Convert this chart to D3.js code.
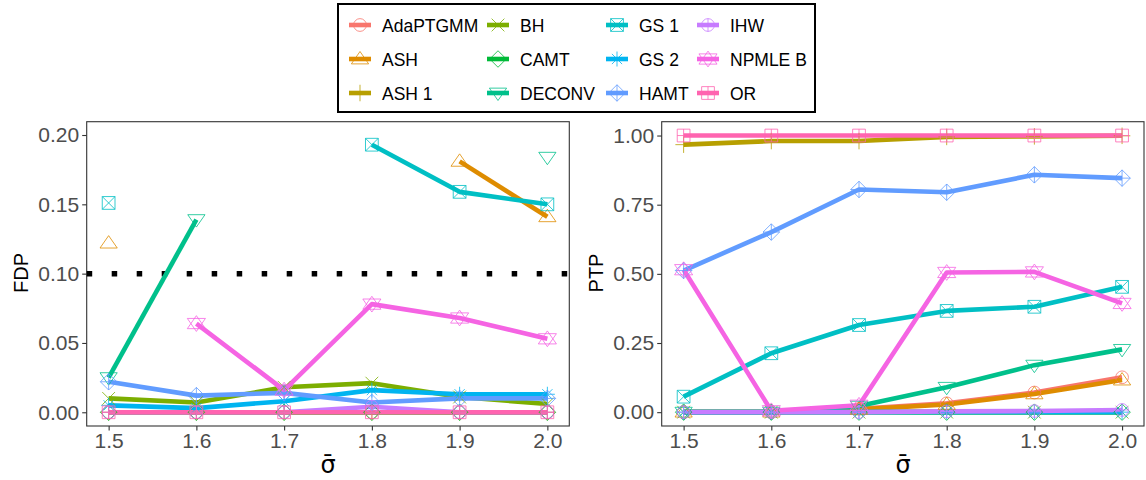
<!doctype html>
<html>
<head>
<style>
  body { margin: 0; background: #fff; }
  text { font-family: "Liberation Sans", Arial, sans-serif; }
</style>
<script src="https://d3js.org/d3.v7.min.js"></script>
</head>
<body>
<svg width="1146" height="480"></svg>
<script>
var N = null;
var methods = ["AdaPTGMM", "ASH", "ASH 1", "BH", "CAMT", "DECONV", "GS 1", "GS 2", "HAMT", "IHW", "NPMLE B", "OR"];
var sigmaBar = [1.5, 1.6, 1.7, 1.8, 1.9, 2.0];
var fdpTicks = [0, 0.05, 0.10, 0.15, 0.20];
var ptpTicks = [0, 0.25, 0.50, 0.75, 1.00];
var fdpTarget = 0.1;

// FDP per method (null = no discoveries)
var fdpAdaPTGMM = [0, 0, 0, 0, 0, 0];
var fdpASH      = [0.122, N, N, N, 0.181, 0.141];
var fdpASH1     = [0, 0, 0, 0, 0, 0];
var fdpBH       = [0.010, 0.007, 0.018, 0.021, 0.011, 0.006];
var fdpCAMT     = [0, 0, 0, 0, 0, 0];
var fdpDECONV   = [0.025, 0.139, N, N, N, 0.184];
var fdpGS1      = [0.151, N, N, 0.193, 0.159, 0.150];
var fdpGS2      = [0.005, 0.003, 0.008, 0.016, 0.013, 0.013];
var fdpHAMT     = [0.022, 0.012, 0.014, 0.007, 0.010, 0.010];
var fdpIHW      = [0, 0, 0, 0.004, 0, 0];
var fdpNPMLEB   = [N, 0.064, 0.016, 0.078, 0.068, 0.053];
var fdpOR       = [0, 0, 0, 0, 0, 0];

// PTP per method
var ptpAdaPTGMM = [0, 0, 0.012, 0.032, 0.071, 0.126];
var ptpASH      = [0, 0, 0.010, 0.028, 0.066, 0.116];
var ptpASH1     = [0.967, 0.980, 0.980, 0.995, 0.997, 0.999];
var ptpBH       = [0, 0, 0, 0, 0, 0];
var ptpCAMT     = [0, 0, 0, 0, 0, 0];
var ptpDECONV   = [0, 0, 0.022, 0.090, 0.170, 0.227];
var ptpGS1      = [0.056, 0.213, 0.315, 0.366, 0.381, 0.453];
var ptpGS2      = [0, 0, 0, 0, 0, 0];
var ptpHAMT     = [0.512, 0.651, 0.805, 0.795, 0.858, 0.846];
var ptpIHW      = [0, 0, 0, 0.003, 0.004, 0.008];
var ptpNPMLEB   = [0.515, 0.005, 0.025, 0.505, 0.507, 0.393];
var ptpOR       = [1, 1, 1, 1, 1, 1];

var palette = ["#F8766D", "#DE8C00", "#B79F00", "#7CAE00", "#00BA38", "#00C08B",
               "#00BFC4", "#00B4F0", "#619CFF", "#C77CFF", "#F564E3", "#FF64B0"];

var fdpSeries = [fdpAdaPTGMM, fdpASH, fdpASH1, fdpBH, fdpCAMT, fdpDECONV, fdpGS1, fdpGS2, fdpHAMT, fdpIHW, fdpNPMLEB, fdpOR];
var ptpSeries = [ptpAdaPTGMM, ptpASH, ptpASH1, ptpBH, ptpCAMT, ptpDECONV, ptpGS1, ptpGS2, ptpHAMT, ptpIHW, ptpNPMLEB, ptpOR];

var svg = d3.select("svg");

// open ggplot-like shapes 1..12
function shapePath(k, r) {
  var p = d3.path();
  function circ(rr) { p.moveTo(rr, 0); p.arc(0, 0, rr, 0, 2 * Math.PI); }
  function seg(x1, y1, x2, y2) { p.moveTo(x1, y1); p.lineTo(x2, y2); }
  function tri(up, rr) {
    var w = rr * 1.15, s = up ? 1 : -1;
    p.moveTo(0, -s * rr); p.lineTo(w, s * rr * 0.65); p.lineTo(-w, s * rr * 0.65); p.closePath();
  }
  function sq(rr) { p.rect(-rr, -rr, 2 * rr, 2 * rr); }
  function dia(rr) { p.moveTo(0, -rr); p.lineTo(rr, 0); p.lineTo(0, rr); p.lineTo(-rr, 0); p.closePath(); }
  var q = r * 0.85;
  switch (k) {
    case 0: circ(q); break;
    case 1: tri(true, r); break;
    case 2: seg(-r * 1.1, 0, r * 1.1, 0); seg(0, -r * 1.1, 0, r * 1.1); break;
    case 3: seg(-q, -q, q, q); seg(-q, q, q, -q); break;
    case 4: dia(r * 1.1); break;
    case 5: tri(false, r); break;
    case 6: sq(q); seg(-q, -q, q, q); seg(-q, q, q, -q); break;
    case 7: seg(-r, 0, r, 0); seg(0, -r, 0, r); seg(-q * 0.8, -q * 0.8, q * 0.8, q * 0.8); seg(-q * 0.8, q * 0.8, q * 0.8, -q * 0.8); break;
    case 8: dia(r * 1.1); seg(-r * 1.1, 0, r * 1.1, 0); seg(0, -r * 1.1, 0, r * 1.1); break;
    case 9: circ(q); seg(-q, 0, q, 0); seg(0, -q, 0, q); break;
    case 10: tri(true, r * 1.05); tri(false, r * 1.05); break;
    case 11: sq(q); seg(-q, 0, q, 0); seg(0, -q, 0, q); break;
  }
  return p.toString();
}

function panel(x0, x1, domainY, ticks) {
  var top = 121.7, bottom = 426;
  var x = d3.scaleLinear().domain([1.475, 2.025]).range([x0, x1]);
  var y = d3.scaleLinear().domain(domainY).range([bottom, top]);
  var g = svg.append("g");

  var yAxis = g.append("g").attr("transform", "translate(" + x0 + ",0)")
    .call(d3.axisLeft(y).tickValues(ticks).tickFormat(d3.format(".2f")).tickSizeOuter(0).tickSize(4.5).tickPadding(3));
  var xAxis = g.append("g").attr("transform", "translate(0," + bottom + ")")
    .call(d3.axisBottom(x).tickValues(sigmaBar).tickFormat(d3.format(".1f")).tickSizeOuter(0).tickSize(4.5).tickPadding(3));
  [yAxis, xAxis].forEach(function (a) {
    a.select(".domain").remove();
    a.selectAll("line").attr("stroke", "#333").attr("stroke-width", 1.1);
    a.selectAll("text").attr("fill", "#4D4D4D").style("font-size", "21px");
  });

  g.append("rect").attr("x", x0).attr("y", top).attr("width", x1 - x0).attr("height", bottom - top)
    .attr("fill", "none").attr("stroke", "#333").attr("stroke-width", 1.1);

  return { g: g.append("g"), x: x, y: y };
}

function drawSeries(p, series) {
  var line = d3.line()
    .defined(function (d) { return d != null; })
    .x(function (d, i) { return p.x(sigmaBar[i]); })
    .y(function (d) { return p.y(d); });
  series.forEach(function (vals, k) {
    p.g.append("path").attr("d", line(vals)).attr("fill", "none")
      .attr("stroke", palette[k]).attr("stroke-width", 4.6).attr("stroke-linejoin", "round");
  });
  series.forEach(function (vals, k) {
    vals.forEach(function (v, i) {
      if (v == null) return;
      p.g.append("path").attr("d", shapePath(k, 7.5))
        .attr("transform", "translate(" + p.x(sigmaBar[i]) + "," + p.y(v) + ")")
        .attr("fill", "none").attr("stroke", palette[k]).attr("stroke-width", 1).attr("opacity", 0.8);
    });
  });
}

var left = panel(86.7, 569.3, [-0.0099, 0.2096], fdpTicks);
left.g.append("line").attr("x1", 86.7).attr("x2", 569.3)
  .attr("y1", left.y(fdpTarget)).attr("y2", left.y(fdpTarget))
  .attr("stroke", "#000").attr("stroke-width", 5.5).attr("stroke-dasharray", "5.5,19.5");
drawSeries(left, fdpSeries);

var right = panel(661.7, 1144, [-0.05, 1.05], ptpTicks);
drawSeries(right, ptpSeries);

// axis titles
svg.append("text").attr("transform", "translate(28,273) rotate(-90)").attr("text-anchor", "middle")
  .style("font-size", "20px").text("FDP");
svg.append("text").attr("transform", "translate(603,273) rotate(-90)").attr("text-anchor", "middle")
  .style("font-size", "20px").text("PTP");
[328, 903].forEach(function (cx) {
  svg.append("text").attr("x", cx).attr("y", 473).attr("text-anchor", "middle")
    .style("font-family", "'DejaVu Sans', sans-serif").style("font-size", "24px").text("σ\u0304");
});

// legend
var legend = svg.append("g");
legend.append("rect").attr("x", 338).attr("y", 4).attr("width", 477).attr("height", 108)
  .attr("fill", "#fff").attr("stroke", "#000").attr("stroke-width", 2);
var colKey = [360, 498, 617, 708];
var rowY = [25, 59, 93];
methods.forEach(function (m, k) {
  var cx = colKey[Math.floor(k / 3)], cy = rowY[k % 3];
  legend.append("line").attr("x1", cx - 11).attr("x2", cx + 11).attr("y1", cy).attr("y2", cy)
    .attr("stroke", palette[k]).attr("stroke-width", 4.6);
  legend.append("path").attr("d", shapePath(k, 7.5)).attr("transform", "translate(" + cx + "," + cy + ")")
    .attr("fill", "none").attr("stroke", palette[k]).attr("stroke-width", 1).attr("opacity", 0.8);
  legend.append("text").attr("x", cx + 22).attr("y", cy + 6.5).style("font-size", "17.5px").text(m);
});
</script>
</body>
</html>
